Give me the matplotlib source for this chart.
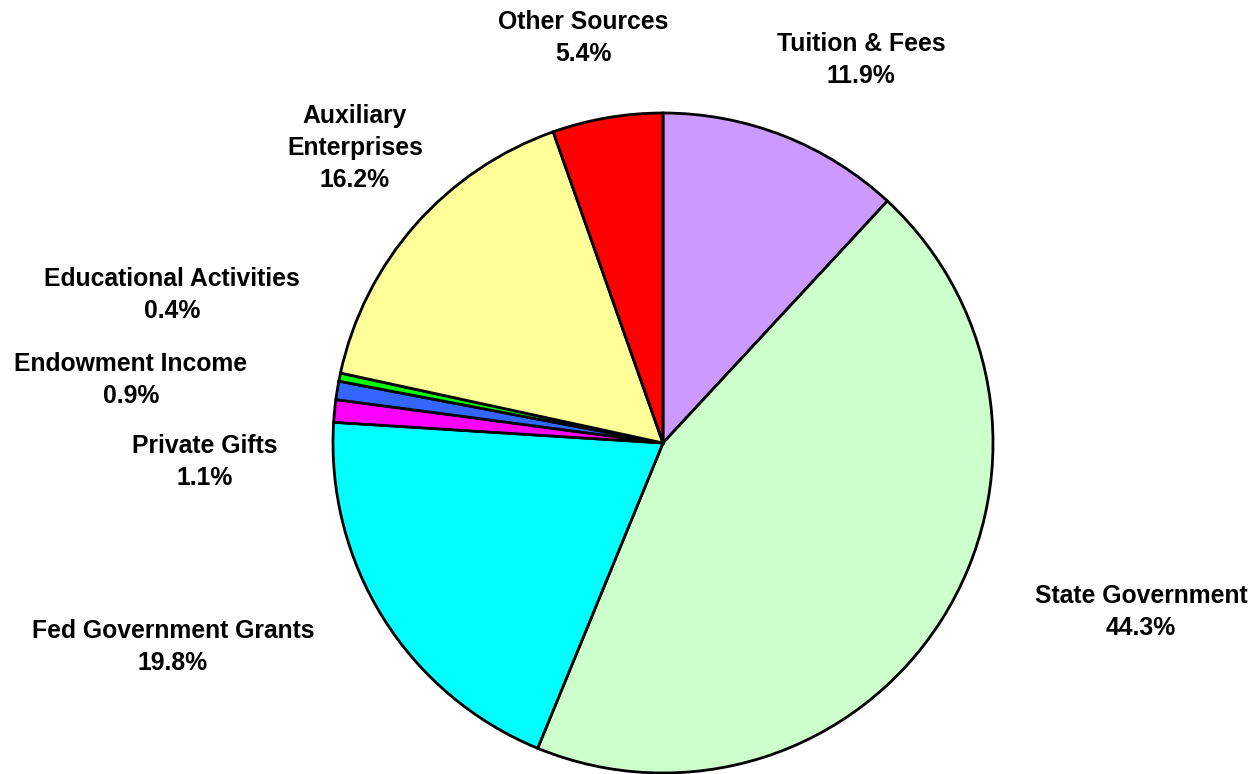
import matplotlib.pyplot as plt

plt.rcParams['font.family'] = ['Liberation Sans', 'DejaVu Sans']

# revenue sources, clockwise from the top
sources = ["Tuition & Fees", "State Government", "Fed Government Grants",
           "Private Gifts", "Endowment Income", "Educational Activities",
           "Auxiliary\nEnterprises", "Other Sources"]
shares = [11.9, 44.3, 19.8, 1.1, 0.9, 0.4, 16.2, 5.4]
colours = ["#CC99FF", "#CCFFCC", "#00FFFF", "#FF00FF",
           "#3366FF", "#00FF00", "#FFFF99", "#FF0000"]

# label centres in pixels from the top left corner
label_pos = [(861, 60), (1141, 612), (173, 647), (205, 462),
             (131, 380), (172, 295), (355, 148), (583, 38)]

W, H = 1255, 774
fig = plt.figure(figsize=(W / 100, H / 100), dpi=100)
ax = fig.add_axes([0, 0, 1, 1])

ax.pie(shares, colors=colours, startangle=90, counterclock=False,
       center=(663, H - 443), radius=330,
       wedgeprops=dict(edgecolor="black", linewidth=2.0))

for name, val, (px, py) in zip(sources, shares, label_pos):
    ax.text(px, H - py, f"{name}\n{val:.1f}%", ha="center", va="center",
            fontsize=17.8, fontweight="bold", linespacing=1.4)

ax.set_xlim(0, W)
ax.set_ylim(0, H)
ax.set_aspect("auto")
ax.axis("off")

fig.savefig("out.png", dpi=100)
